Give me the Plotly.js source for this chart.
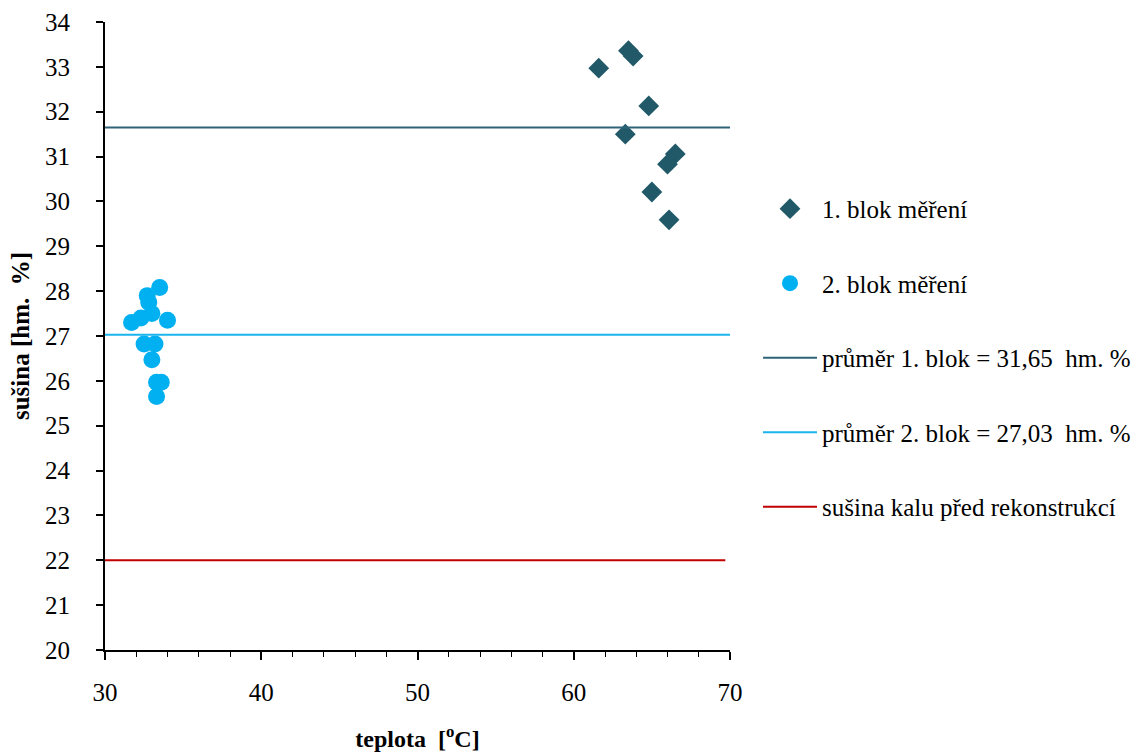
<!DOCTYPE html>
<html>
<head>
<meta charset="utf-8">
<script src="https://cdn.plot.ly/plotly-3.0.1.min.js"></script>
<style>html,body{margin:0;padding:0;background:#fff;}#chart{width:1148px;height:753px;}</style>
</head>
<body>
<div id="chart"></div>
<script>
// Data
const block1Temp = [61.6, 63.5, 63.8, 64.8, 63.3, 66.5, 66.0, 65.0, 66.1];
const block1Dry  = [32.97, 33.36, 33.24, 32.13, 31.50, 31.06, 30.83, 30.21, 29.59];

const block2Temp = [31.7, 32.3, 32.7, 32.8, 33.0, 33.5, 34.0, 32.5, 33.2, 33.0, 33.3, 33.6, 33.3];
const block2Dry  = [27.30, 27.40, 27.90, 27.75, 27.50, 28.08, 27.35, 26.82, 26.82, 26.47, 25.97, 25.97, 25.65];

const mean1 = 31.65;
const mean2 = 27.03;
const before = 22.0;
const meanRange = [30, 70];
const beforeRange = [30, 69.7];

const names = ["1. blok měření", "2. blok měření", "průměr 1. blok = 31,65  hm. %", "průměr 2. blok = 27,03  hm. %", "sušina kalu před rekonstrukcí"];

const traces = [
  {x: block1Temp, y: block1Dry, mode: 'markers', type: 'scatter', name: names[0], legendgroup: 'a',
   marker: {symbol: 'diamond', size: 16, color: '#215968'}},
  {x: block2Temp, y: block2Dry, mode: 'markers', type: 'scatter', name: names[1], legendgroup: 'b',
   marker: {symbol: 'circle', size: 17, color: '#00B0F0'}},
  {x: meanRange, y: [mean1, mean1], mode: 'lines', type: 'scatter', name: names[2], legendgroup: 'c',
   line: {color: '#2E6478', width: 2}},
  {x: meanRange, y: [mean2, mean2], mode: 'lines', type: 'scatter', name: names[3], legendgroup: 'd',
   line: {color: '#1AB4EE', width: 2}},
  {x: beforeRange, y: [before, before], mode: 'lines', type: 'scatter', name: names[4], legendgroup: 'e',
   line: {color: '#C00000', width: 2}}
];

const FAM = 'Liberation Serif, Times New Roman, serif';

const layout = {
  width: 1148, height: 753,
  margin: {l: 105, r: 418, t: 22, b: 103},
  paper_bgcolor: '#fff', plot_bgcolor: '#fff',
  font: {family: FAM, color: '#000', size: 25},
  showlegend: true,
  legend: {x: 1.0448, xanchor: 'left', y: 0.739, yanchor: 'top', traceorder: 'grouped',
           tracegroupgap: 39, itemwidth: 54,
           font: {family: FAM, size: 25, color: '#000'}, bgcolor: 'rgba(0,0,0,0)'},
  xaxis: {range: [30, 70], dtick: 10, tick0: 30, showgrid: false, zeroline: false,
          showline: true, linecolor: '#000', linewidth: 2, ticks: 'outside', ticklen: 8, tickwidth: 2, tickcolor: '#000',
          minor: {dtick: 2, ticks: 'outside', ticklen: 5, tickwidth: 1, tickcolor: '#000', showgrid: false},
          tickfont: {family: FAM, size: 25, color: '#000'},
          ticklabelstandoff: 11,
          title: {text: '<b>teplota  [<sup>o</sup>C]</b>', font: {family: FAM, size: 24, color: '#000'}, standoff: 25},
          automargin: false, fixedrange: true},
  yaxis: {range: [20, 34], dtick: 1, showgrid: false, zeroline: false,
          showline: true, linecolor: '#000', linewidth: 2, ticks: 'outside', ticklen: 7, tickwidth: 2, tickcolor: '#000',
          tickfont: {family: FAM, size: 25, color: '#000'},
          ticklabelstandoff: 21,
          title: {text: '<b>sušina [hm.  %]</b>', font: {family: FAM, size: 25, color: '#000'}, standoff: 8},
          automargin: false, fixedrange: true}
};

Plotly.newPlot('chart', traces, layout, {displayModeBar: false, staticPlot: true});
</script>
</body>
</html>
